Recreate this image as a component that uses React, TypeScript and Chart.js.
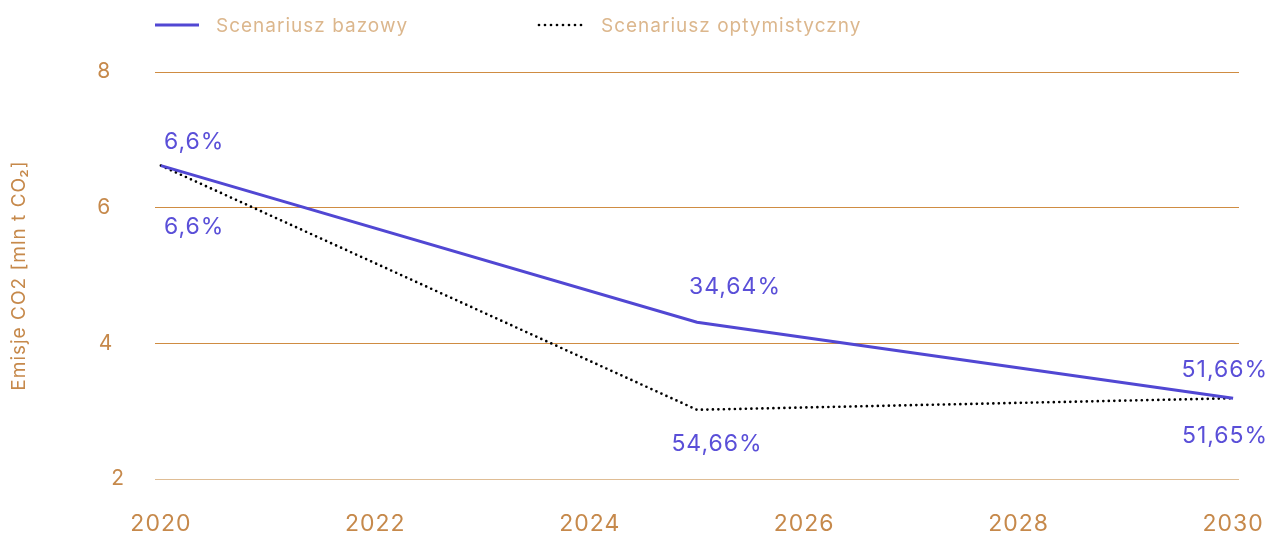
import React, { useEffect, useRef } from "react";
import { Chart, registerables } from "chart.js";

Chart.register(...registerables);

const years = [2020, 2025, 2030];
const baseValues = [6.62, 4.31, 3.19];
const optValues = [6.62, 3.02, 3.19];
const baseLabels = ["6,6%", "34,64%", "51,66%"];
const optLabels = ["6,6%", "54,66%", "51,65%"];
const yTicks = [2, 4, 6, 8];
const xTicks = [2020, 2022, 2024, 2026, 2028, 2030];
const seriesNames = ["Scenariusz bazowy", "Scenariusz optymistyczny"];
const yTitle = "Emisje CO2 [mln t CO\u2082]";

const FONT = "Inter, 'Open Sans', sans-serif";
const PURPLE = "#5147d3";
const LABEL = "#5a4fd8";
const TICK = "#c6894b";
const LEGEND = "#dcb78d";
const GRID = "#cf8c42";
const GRID_LIGHT = "#dfbd95";

// y tick label trailing gap (style) to mimic reference offsets
const yTickGap: Record<number, string> = { 2: "", 4: " \u2009", 6: "  ", 8: "  " };

// label placement (style): [dx, dy, align]
const baseLabelPos: [number, number, CanvasTextAlign][] = [
  [3, -24, "left"],
  [-8, -35, "left"],
  [35, -28, "right"],
];
const optLabelPos: [number, number, CanvasTextAlign][] = [
  [3, 61, "left"],
  [20, 34, "center"],
  [35, 38, "right"],
];

const spacingPlugin = {
  id: "spacing",
  beforeDraw(chart: any) {
    chart.ctx.letterSpacing = "1px";
  },
};

const labelPlugin = {
  id: "pointLabels",
  afterDatasetsDraw(chart: any) {
    const ctx = chart.ctx;
    ctx.save();
    ctx.letterSpacing = "1px";
    ctx.font = `23px ${FONT}`;
    ctx.fillStyle = LABEL;
    ctx.textBaseline = "middle";
    const sets: [number, string[], [number, number, CanvasTextAlign][]][] = [
      [0, baseLabels, baseLabelPos],
      [1, optLabels, optLabelPos],
    ];
    sets.forEach(([di, labels, pos]) => {
      const meta = chart.getDatasetMeta(di);
      meta.data.forEach((pt: any, i: number) => {
        const [dx, dy, align] = pos[i];
        ctx.textAlign = align;
        ctx.fillText(labels[i], pt.x + dx, pt.y + dy);
      });
    });
    ctx.restore();
  },
};

const legendPlugin = {
  id: "customLegend",
  afterDraw(chart: any) {
    const ctx = chart.ctx;
    const y = 25;
    ctx.save();
    ctx.letterSpacing = "1px";
    ctx.font = `19px ${FONT}`;
    ctx.textBaseline = "middle";
    ctx.textAlign = "left";
    ctx.strokeStyle = PURPLE;
    ctx.lineWidth = 3;
    ctx.beginPath();
    ctx.moveTo(155, y);
    ctx.lineTo(199, y);
    ctx.stroke();
    ctx.fillStyle = LEGEND;
    ctx.fillText(seriesNames[0], 216, y + 1);
    ctx.strokeStyle = "#000";
    ctx.lineWidth = 2.7;
    ctx.lineCap = "round";
    ctx.setLineDash([0, 6]);
    ctx.beginPath();
    ctx.moveTo(539, y);
    ctx.lineTo(585, y);
    ctx.stroke();
    ctx.setLineDash([]);
    ctx.fillText(seriesNames[1], 601, y + 1);
    ctx.restore();
  },
};

export default function App() {
  const ref = useRef<HTMLCanvasElement>(null);
  useEffect(() => {
    document.body.style.margin = "0";
    const chart = new Chart(ref.current!, {
      type: "line",
      data: {
        datasets: [
          {
            label: seriesNames[0],
            data: years.map((x, i) => ({ x, y: baseValues[i] })),
            borderColor: PURPLE,
            borderWidth: 3,
            pointRadius: 0,
            tension: 0,
          },
          {
            label: seriesNames[1],
            data: years.map((x, i) => ({ x, y: optValues[i] })),
            borderColor: "#000",
            borderWidth: 2.7,
            borderDash: [0, 5.5],
            borderCapStyle: "round",
            pointRadius: 0,
            tension: 0,
          },
        ],
      },
      options: {
        animation: false,
        responsive: false,
        layout: { padding: { top: 72, right: 32, left: 0, bottom: 0 } },
        plugins: { legend: { display: false }, tooltip: { enabled: false } },
        scales: {
          x: {
            type: "linear",
            min: 2019.945,
            max: 2030.055,
            afterBuildTicks: (s: any) => {
              s.ticks = xTicks.map((v) => ({ value: v }));
            },
            afterFit: (s: any) => {
              s.height = 56;
              s.paddingLeft = 0;
              s.paddingRight = 0;
            },
            grid: { display: false, drawTicks: false },
            border: { display: false },
            ticks: {
              color: TICK,
              font: { family: FONT, size: 23 },
              padding: 31,
              callback: (v: any) => String(v),
              maxRotation: 0,
            },
          },
          y: {
            min: 2,
            max: 8,
            afterBuildTicks: (s: any) => {
              s.ticks = yTicks.map((v) => ({ value: v }));
            },
            afterFit: (s: any) => {
              s.width = 155;
              s.paddingTop = 0;
              s.paddingBottom = 0;
            },
            grid: {
              drawTicks: false,
              color: (c: any) => (c.tick && c.tick.value === 2 ? GRID_LIGHT : GRID),
              lineWidth: 1,
            },
            border: { display: false },
            ticks: {
              color: TICK,
              font: { family: FONT, size: 21 },
              padding: 30,
              callback: (v: any) => String(v) + (yTickGap[v] ?? ""),
            },
            title: {
              display: true,
              text: yTitle,
              color: TICK,
              font: { family: FONT, size: 19 },
              padding: { top: 8, bottom: 0 },
            },
          },
        },
      },
      plugins: [spacingPlugin, labelPlugin, legendPlugin],
    } as any);
    return () => chart.destroy();
  }, []);
  return (
    <div style={{ width: 1271, height: 535 }}>
      <canvas ref={ref} width={1271} height={535} style={{ display: "block" }} />
    </div>
  );
}
